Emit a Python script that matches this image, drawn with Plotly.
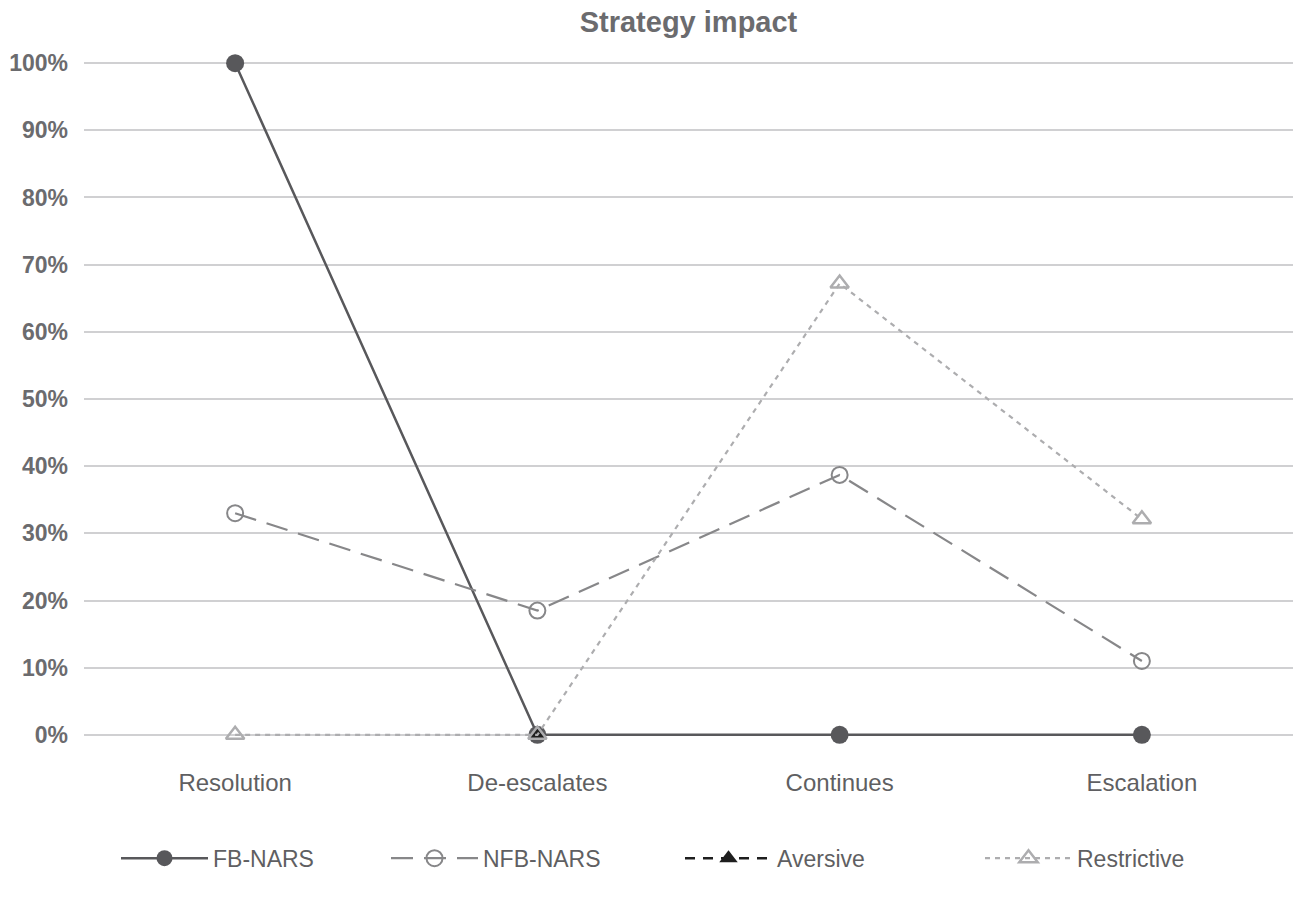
import plotly.graph_objects as go

categories = ["Resolution", "De-escalates", "Continues", "Escalation"]
fb_nars = [1.00, 0.0, 0.0, 0.0]
nfb_nars = [0.33, 0.185, 0.387, 0.11]
aversive = [None, 0.0, None, None]
restrictive = [0.0, 0.0, 0.672, 0.321]
y_ticks = [0, 0.1, 0.2, 0.3, 0.4, 0.5, 0.6, 0.7, 0.8, 0.9, 1.0]
y_tick_labels = ["0%", "10%", "20%", "30%", "40%", "50%", "60%", "70%", "80%", "90%", "100%"]

FONT = "Liberation Sans, Arial, sans-serif"
PLOT_L, PLOT_R = 84, 1293

fig = go.Figure()
fig.add_trace(go.Scatter(
    x=categories, y=fb_nars, name="FB-NARS", mode="lines+markers",
    line=dict(color="#58585b", width=2.5),
    marker=dict(symbol="circle", size=18, color="#58585b"),
    cliponaxis=False, legend="legend"))
fig.add_trace(go.Scatter(
    x=categories, y=nfb_nars, name="NFB-NARS", mode="lines+markers",
    line=dict(color="#878789", width=2.2, dash="22px,11px"),
    marker=dict(symbol="circle-open", size=16, color="#878789", line=dict(width=2)),
    cliponaxis=False, legend="legend2"))
fig.add_trace(go.Scatter(
    x=categories, y=aversive, name="Aversive", mode="lines+markers",
    line=dict(color="#1e1e1e", width=2.5, dash="10px,8px"),
    marker=dict(symbol="triangle-up", size=16, color="#1e1e1e"),
    cliponaxis=False, legend="legend3"))
fig.add_trace(go.Scatter(
    x=categories, y=restrictive, name="Restrictive", mode="lines+markers",
    line=dict(color="#adadaf", width=2.2, dash="5px,5px"),
    marker=dict(symbol="triangle-up-open", size=16, color="#adadaf", line=dict(width=2.5)),
    cliponaxis=False, legend="legend4"))


def leg(xpix):
    return dict(orientation="h", yanchor="middle", y=-0.145, xanchor="left",
                x=(xpix - PLOT_L) / (PLOT_R - PLOT_L), xref="paper",
                font=dict(family=FONT, size=23, color="#5f5f62"),
                bgcolor="rgba(0,0,0,0)", itemwidth=87)


fig.update_layout(
    width=1301, height=899,
    margin=dict(l=PLOT_L, r=1301 - PLOT_R, t=43, b=144),
    paper_bgcolor="white", plot_bgcolor="white",
    showlegend=True,
    title=dict(text="<b>Strategy impact</b>", x=0.5, xref="paper", xanchor="center",
               y=1 - 22 / 899, yanchor="middle",
               font=dict(family=FONT, size=29, color="#6b6b6e")),
    xaxis=dict(type="category", showgrid=False, zeroline=False, showline=False,
               ticks="", tickfont=dict(family=FONT, size=24, color="#5f5f62"),
               range=[-0.5, 3.5], ticklabelstandoff=11),
    yaxis=dict(range=[-0.03, 1.03], tickvals=y_ticks,
               ticktext=["<b>%s</b>" % t for t in y_tick_labels],
               showgrid=True, gridcolor="#d0d0d2", gridwidth=1.6, zeroline=False, showline=False,
               tickfont=dict(family=FONT, size=23, color="#6b6b6e"), ticklabelstandoff=15),
    legend=leg(116),
    legend2=leg(386),
    legend3=leg(680),
    legend4=leg(980),
)

fig.write_html("out.html")
